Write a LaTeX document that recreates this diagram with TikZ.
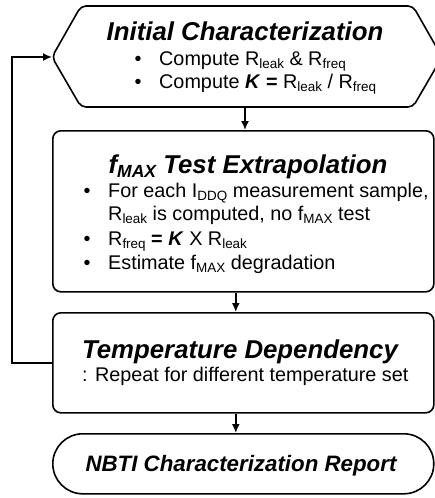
\documentclass[tikz,border=0pt]{standalone}
\usepackage{fontspec}
\setmainfont{Liberation Sans}
\usetikzlibrary{arrows.meta}
\newcommand\mysub[1]{\raisebox{-0.3ex}{\scalebox{0.68}{#1}}}
\newcommand\bk{\textbf{\textit{K}}}
\begin{document}
\begin{tikzpicture}[x=1pt,y=-1pt,
  box/.style={draw, line width=1.6pt, rounded corners=8pt, inner sep=0pt},
  flow/.style={line width=1.6pt, -{Latex[length=9pt,width=8pt]}},
  title/.style={anchor=base, font=\fontsize{25.8}{29}\selectfont\bfseries\itshape, inner sep=0pt},
  body/.style={anchor=base west, font=\fontsize{19.8}{24}\selectfont, inner sep=0pt},
  bul/.style={anchor=base, font=\fontsize{19.8}{24}\selectfont, inner sep=0pt}]
\useasboundingbox (0,0) rectangle (434,498);

% hexagon
\draw[line width=1.6pt, rounded corners=5pt] (52,57) -- (81,6) -- (413,6) -- (442,57) -- (413,107) -- (81,107) -- cycle;
\coordinate (hexW) at (52,57);
\coordinate (hexS) at (245,107);

% boxes
\node[box, minimum width=381pt, minimum height=161pt, anchor=north west] (extrap) at (52,130) {};
\node[box, minimum width=381pt, minimum height=100pt, anchor=north west] (temp) at (52,312) {};
\node[box, rounded corners=30pt, minimum width=381pt, minimum height=60pt, anchor=north west] (report) at (52,433) {};

% connectors
\draw[flow] (hexS) -- (hexS |- extrap.north);
\draw[flow] ([xshift=-7.5pt]extrap.south) -- ([xshift=-7.5pt]temp.north);
\draw[flow] ([xshift=-7.5pt]temp.south) -- ([xshift=-7.5pt]report.north);
\draw[flow] (temp.west) -- ++(-40,0) |- (hexW);

% texts: initial characterization
\node[title] (t1) at (245,40) {Initial Characterization};
\node[bul] (b11) at (138,65) {•};
\node[body] (l11) at (159,65) {Compute R\mysub{leak} \& R\mysub{freq}};
\node[bul] (b12) at (138,88) {•};
\node[body] (l12) at (159,88) {Compute \bk\ \textbf{=} R\mysub{leak} / R\mysub{freq}};

% fmax extrapolation
\node[title] (t2) at (248,173) {f\mysub{MAX} Test Extrapolation};
\node[bul] (b21) at (87,197) {•};
\node[body] (l21) at (108,197) {For each I\mysub{DDQ} measurement sample,};
\node[body] (l22) at (108,220) {R\mysub{leak} is computed, no f\mysub{MAX} test};
\node[bul] (b23) at (87,245) {•};
\node[body] (l23) at (108,245) {R\mysub{freq} \textbf{=} \bk\ X R\mysub{leak}};
\node[bul] (b24) at (87,269) {•};
\node[body] (l24) at (108,269) {Estimate f\mysub{MAX} degradation};

% temperature
\node[title] (t3) at (240,358) {Temperature Dependency};
\node[body] (l31) at (82,381) {: Repeat for different temperature set};

% report
\node[title, font=\fontsize{22.3}{26}\selectfont\bfseries\itshape] (t4) at (241,471) {NBTI Characterization Report};
\end{tikzpicture}
\end{document}
